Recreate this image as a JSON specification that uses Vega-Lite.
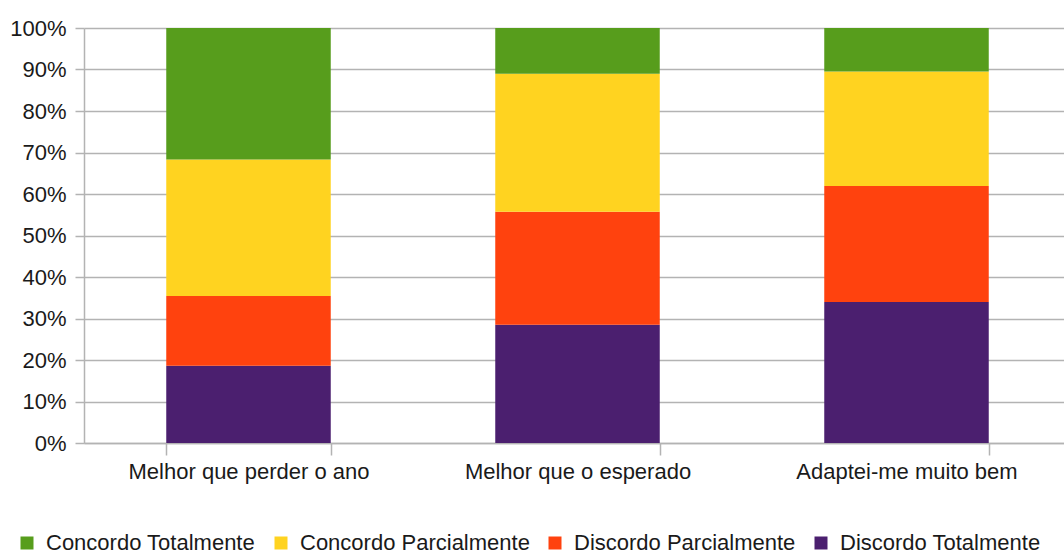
{
  "$schema": "https://vega.github.io/schema/vega-lite/v6.json",
  "width": 987,
  "height": 415,
  "autosize": {"type": "none"},
  "padding": {"left": 84, "top": 28, "right": 0, "bottom": 111},
  "background": "#ffffff",
  "config": {
    "view": {"stroke": null},
    "font": "Liberation Sans",
    "axis": {"labelFont": "Liberation Sans", "labelFontSize": 22, "labelColor": "#1a1a1a", "domainColor": "#b3b3b3", "tickColor": "#b3b3b3", "gridColor": "#b3b3b3", "domainWidth": 1.5, "tickWidth": 1.5, "gridWidth": 1.5, "gridOpacity": 1, "labelLimit": 600}
  },
  "data": {
    "values": [
      {"afirmacao": "Melhor que perder o ano", "resposta": "Discordo Totalmente", "ordem": 1, "pct": 18.6},
      {"afirmacao": "Melhor que perder o ano", "resposta": "Discordo Parcialmente", "ordem": 2, "pct": 16.8},
      {"afirmacao": "Melhor que perder o ano", "resposta": "Concordo Parcialmente", "ordem": 3, "pct": 32.9},
      {"afirmacao": "Melhor que perder o ano", "resposta": "Concordo Totalmente", "ordem": 4, "pct": 31.7},
      {"afirmacao": "Melhor que o esperado", "resposta": "Discordo Totalmente", "ordem": 1, "pct": 28.5},
      {"afirmacao": "Melhor que o esperado", "resposta": "Discordo Parcialmente", "ordem": 2, "pct": 27.2},
      {"afirmacao": "Melhor que o esperado", "resposta": "Concordo Parcialmente", "ordem": 3, "pct": 33.3},
      {"afirmacao": "Melhor que o esperado", "resposta": "Concordo Totalmente", "ordem": 4, "pct": 11.0},
      {"afirmacao": "Adaptei-me muito bem", "resposta": "Discordo Totalmente", "ordem": 1, "pct": 34.0},
      {"afirmacao": "Adaptei-me muito bem", "resposta": "Discordo Parcialmente", "ordem": 2, "pct": 27.9},
      {"afirmacao": "Adaptei-me muito bem", "resposta": "Concordo Parcialmente", "ordem": 3, "pct": 27.6},
      {"afirmacao": "Adaptei-me muito bem", "resposta": "Concordo Totalmente", "ordem": 4, "pct": 10.5}
    ]
  },
  "mark": {"type": "bar"},
  "encoding": {
    "x": {
      "field": "afirmacao", "type": "nominal",
      "sort": ["Melhor que perder o ano", "Melhor que o esperado", "Adaptei-me muito bem"],
      "scale": {"paddingInner": 0.5, "paddingOuter": 0.25},
      "axis": {"title": null, "labelAngle": 0, "tickBand": "extent", "tickSize": 12, "labelPadding": 6, "grid": false}
    },
    "y": {
      "field": "pct", "type": "quantitative", "stack": "normalize",
      "scale": {"domain": [0, 1]},
      "axis": {"title": null, "format": ".0%", "values": [0, 0.1, 0.2, 0.3, 0.4, 0.5, 0.6, 0.7, 0.8, 0.9, 1], "tickSize": 9, "labelPadding": 9, "grid": true}
    },
    "order": {"field": "ordem", "type": "quantitative", "sort": "ascending"},
    "color": {
      "field": "resposta", "type": "nominal",
      "scale": {
        "domain": ["Concordo Totalmente", "Concordo Parcialmente", "Discordo Parcialmente", "Discordo Totalmente"],
        "range": ["#579d1c", "#ffd320", "#ff420e", "#4b1f6f"]
      },
      "legend": {
        "title": null, "orient": "none", "direction": "horizontal",
        "legendX": -68, "legendY": 504,
        "symbolType": "square", "symbolSize": 169, "symbolStrokeWidth": 0,
        "labelFont": "Liberation Sans", "labelFontSize": 22, "labelColor": "#1a1a1a",
        "labelOffset": 8, "columnPadding": 14, "labelLimit": 400
      }
    }
  }
}
